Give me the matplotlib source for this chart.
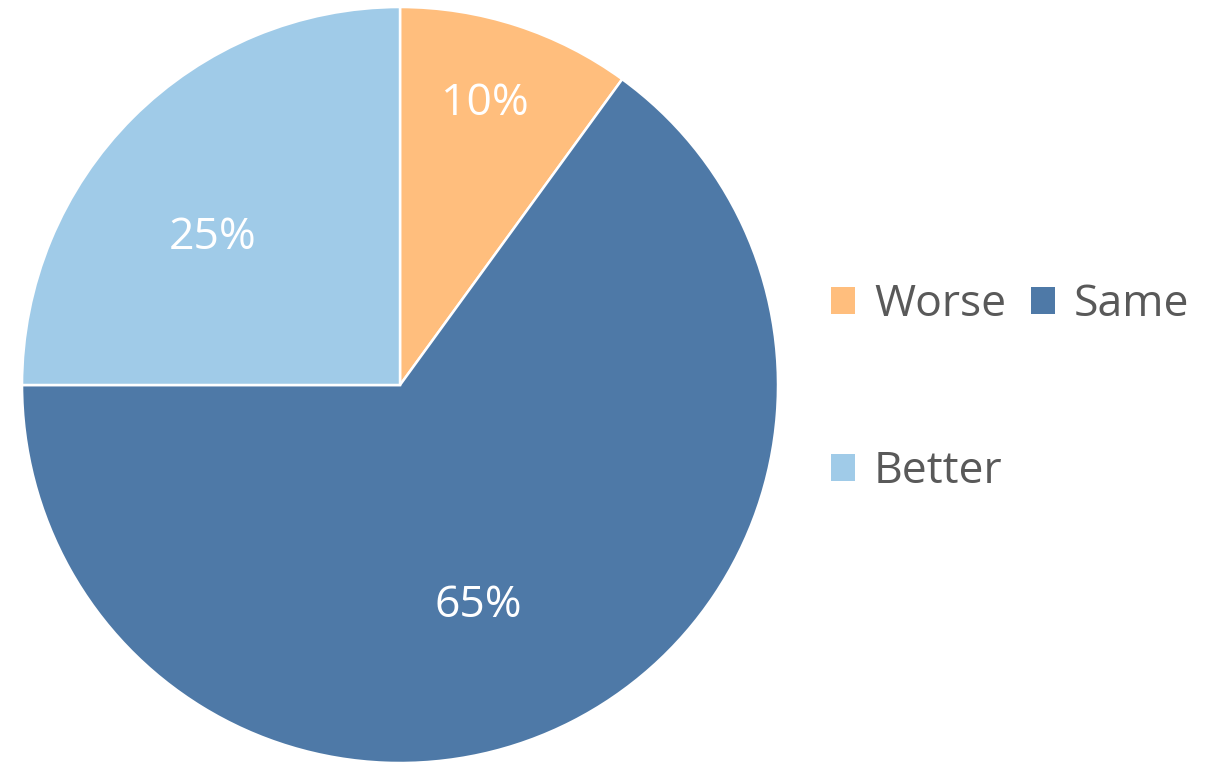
import matplotlib
matplotlib.use("Agg")
import matplotlib.pyplot as plt

categorias = ["Worse", "Same", "Better"]
valores = [10, 65, 25]
cores = ["#FFBE7D", "#4E79A7", "#A0CBE8"]
# posições dos rótulos (estilo Excel, não uniforme)
pos_rotulos = [(0.225, 0.745), (0.206, -0.585), (-0.495, 0.39)]

plt.rcParams['font.family'] = ['Open Sans', 'DejaVu Sans']

fig = plt.figure(figsize=(12.12, 7.63), dpi=100)
ax = fig.add_axes([0.01815, 0.0, 0.6238, 0.9908])

wedges, textos, autotextos = ax.pie(valores, colors=cores, startangle=90, counterclock=False,
                                    autopct=lambda p: f"{p:.0f}%", pctdistance=0.78,
                                    wedgeprops=dict(edgecolor="white", linewidth=1.8),
                                    textprops=dict(color="white", fontsize=32))
for t, p in zip(autotextos, pos_rotulos):
    t.set_position(p)
ax.set_xlim(-1, 1)
ax.set_ylim(-1, 1)
ax.set_aspect("equal")

ordem = [0, 2, 1]
leg = fig.legend([wedges[i] for i in ordem], [categorias[i] for i in ordem],
                 loc="center left", bbox_to_anchor=(0.686, 0.491), ncol=2, frameon=False,
                 fontsize=32, handlelength=0.54, handleheight=0.54, handletextpad=0.42,
                 columnspacing=0.55, labelspacing=2.76, borderpad=0, borderaxespad=0)
for t in leg.get_texts():
    t.set_color("#595959")
for h in leg.legend_handles:
    h.set_edgecolor("none")

fig.savefig("out.png", dpi=100)
